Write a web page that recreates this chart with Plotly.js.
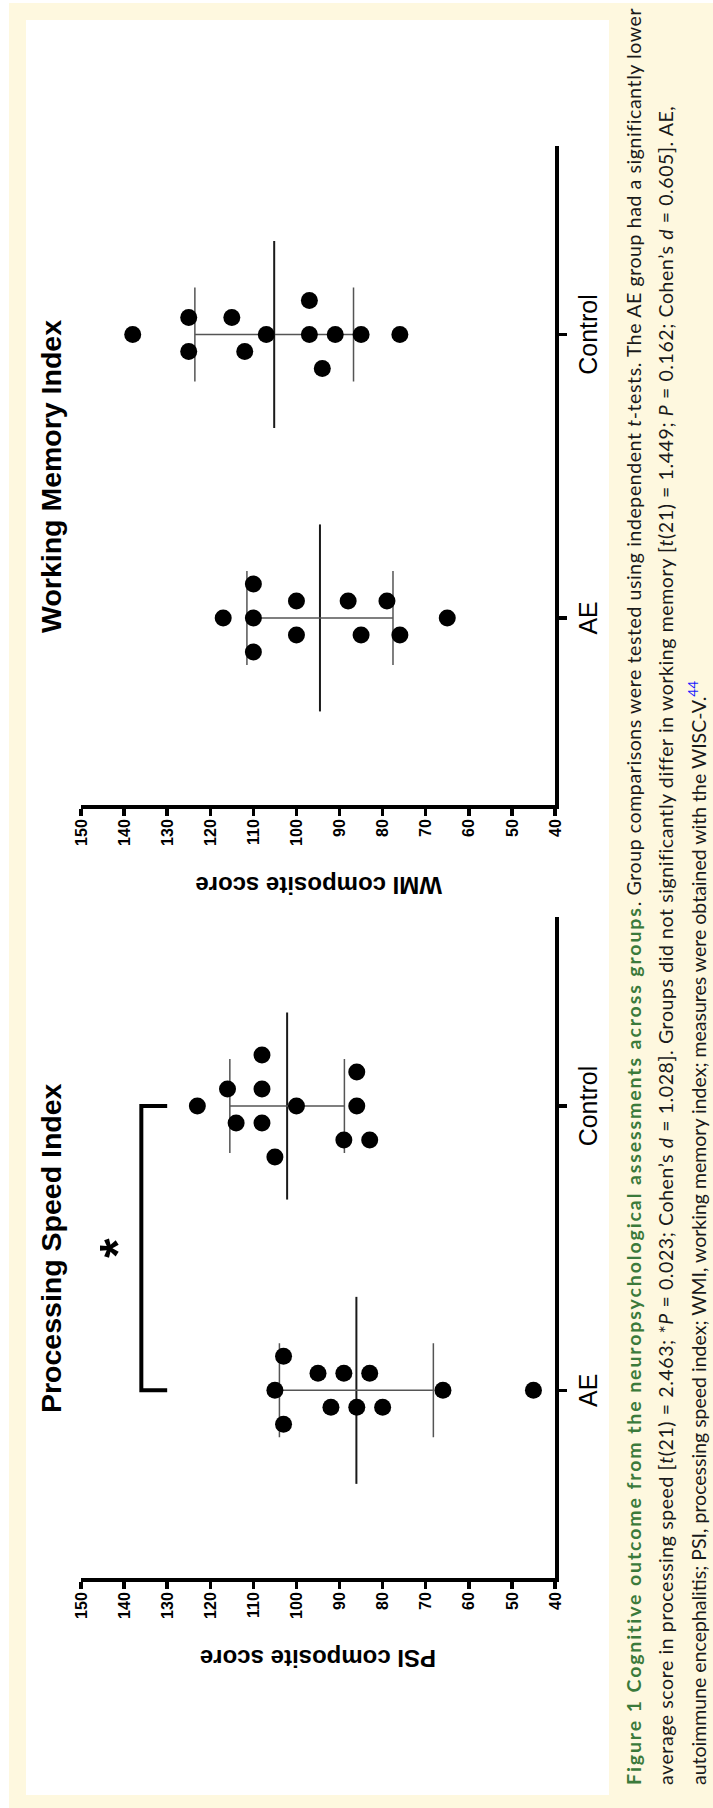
<!DOCTYPE html>
<html><head><meta charset="utf-8">
<script src="https://cdn.plot.ly/plotly-3.0.1.min.js"></script>
<style>
html,body{margin:0;padding:0;background:#fff;overflow:hidden;width:713px;height:1808px;}
#land{position:absolute;left:0;top:0;width:1808px;height:713px;transform-origin:0 0;transform:translate(0px,1808px) rotate(-90deg);}
#cream{position:absolute;left:0;top:9px;width:1805px;height:704px;background:#FEF8DF;}
#panel{position:absolute;left:13px;top:26px;width:1775px;height:583px;background:#fff;}
#plot{position:absolute;left:0;top:0;width:1808px;height:713px;}
</style></head><body>
<div id="land"><div id="cream"></div><div id="panel"></div><div id="plot"></div></div>
<script>
// ---------- data ----------
const categories = ['AE', 'Control'];
const psiAE      = [103, 105, 103, 95, 92, 89, 86, 83, 80, 66, 45];
const psiControl = [123, 116, 114, 108, 108, 108, 105, 100, 86, 86, 89, 83];
const wmiAE      = [117, 110, 110, 110, 100, 100, 88, 85, 79, 76, 65];
const wmiControl = [138, 125, 125, 115, 112, 107, 97, 97, 94, 91, 85, 76];
const yTickVals  = [40, 50, 60, 70, 80, 90, 100, 110, 120, 130, 140, 150];
const psiBracket = [130, 136];   // leg bottom, bar level (value units)
const panelTitles = ['Processing Speed Index', 'Working Memory Index'];
const axisTitles  = ['PSI composite score', 'WMI composite score'];

// ---------- geometry (landscape figure, later rotated) ----------
const W = 1808, H = 713;
const PX = [[230, 891], [1003, 1662]];
const PT = 81, PB = 555;
const xRange = [-0.66, 1.665];
const yRange = [40, 150];
const dotD = 17;
const pxY = (PB - PT) / (yRange[1] - yRange[0]);
const FONT = 'Arial, "Liberation Sans", Helvetica, sans-serif';

function mean(a){ return a.reduce((s,v)=>s+v,0)/a.length; }
function sd(a){ const m=mean(a); return Math.sqrt(a.reduce((s,v)=>s+(v-m)*(v-m),0)/(a.length-1)); }

// simple beeswarm: rows of overlapping values spread symmetrically, then collision fix
function swarm(vals, c, pxX){
  const thr = dotD / pxY;
  const rows = [];
  vals.forEach((v,i)=>{
    const r = rows[rows.length-1];
    if (r && r.every(j=>Math.abs(vals[j]-v) < thr)) r.push(i); else rows.push([i]);
  });
  const off = new Array(vals.length);
  const placed = [];
  const hits = (o,v)=>placed.some(p=>Math.abs(p.o-o) < 2 && Math.abs(p.v-v)*pxY < dotD);
  rows.forEach(r=>{
    const n = r.length;
    r.forEach((idx,k)=>{
      let o = (n-1) - 2*k;
      if (hits(o, vals[idx])) {
        for (const cnd of [0,1,-1,2,-2,3,-3,4,-4,5,-5]) { if (!hits(cnd, vals[idx])) { o = cnd; break; } }
      }
      off[idx] = o; placed.push({o:o, v:vals[idx]});
    });
  });
  return off.map(o => c + o*dotD/pxX);
}

const traces = [];
const groups = [[psiAE, psiControl], [wmiAE, wmiControl]];
groups.forEach((g, p)=>{
  const xa = p===0 ? 'x' : 'x2', ya = p===0 ? 'y' : 'y2';
  const pxX = (PX[p][1]-PX[p][0])/(xRange[1]-xRange[0]);
  const hw = 93.5/pxX;
  g.forEach((vals, c)=>{
    const m = mean(vals), s = sd(vals);
    traces.push({x:[c-hw, c+hw], y:[m, m], mode:'lines', line:{color:'#1a1a1a', width:2}, xaxis:xa, yaxis:ya, hoverinfo:'skip'});
    traces.push({x:[c], y:[m], mode:'markers', marker:{size:1, color:'rgba(0,0,0,0)'}, xaxis:xa, yaxis:ya,
      error_y:{type:'data', array:[s], visible:true, color:'#555', thickness:1.5, width:47}, hoverinfo:'skip'});
  });
  g.forEach((vals, c)=>{
    traces.push({x: swarm(vals, c, pxX), y: vals, mode:'markers', marker:{size:dotD, color:'#000', line:{width:0}}, xaxis:xa, yaxis:ya});
  });
});
traces.push({x:[0,0,1,1], y:[psiBracket[0], psiBracket[1], psiBracket[1], psiBracket[0]], mode:'lines',
  line:{color:'#000', width:4}, xaxis:'x', yaxis:'y', hoverinfo:'skip'});

function xax(p){
  return {domain:[PX[p][0]/W, PX[p][1]/W], range:xRange, tickvals:[0,1], ticktext:categories,
    ticks:'outside', ticklen:8, tickwidth:3.5, tickcolor:'#000', showline:true, linewidth:4, linecolor:'#000',
    showgrid:false, zeroline:false, anchor: p===0?'y':'y2', fixedrange:true,
    tickfont:{family:FONT, size:25, color:'#000'}};
}
function yax(p){
  return {domain:[1-PB/H, 1-PT/H], range:yRange, tickvals:yTickVals, ticks:'outside', ticklen:7, tickwidth:3.5,
    tickcolor:'#000', showline:true, linewidth:4, linecolor:'#000', showgrid:false, zeroline:false,
    anchor: p===0?'x':'x2', fixedrange:true, tickfont:{family:FONT, size:16, color:'#000', weight:700}};
}

const ann = [];
[0,1].forEach(p=>{
  ann.push({text:panelTitles[p], xref: p===0?'x':'x2', x:0.5, yref:'paper', y:1-51/H, xanchor:'center', yanchor:'middle',
    showarrow:false, font:{family:FONT, size:28.5, weight:700, color:'#000'}});
  ann.push({text:axisTitles[p], xref:'paper', x:(PX[p][0]-80)/W, yref:'paper', y:1-318/H, xanchor:'center', yanchor:'middle',
    textangle:-90, showarrow:false, font:{family:FONT, size:24, weight:700, color:'#000'}});
});
ann.push({text:'*', xref:'x', x:0.5, yref:'paper', y:1-118/H, xanchor:'center', yanchor:'middle', showarrow:false,
  font:{family:FONT, size:50, weight:700, color:'#000'}});

const CAP = 'Lato, "Open Sans", sans-serif';
const G = '#3b7a3b';
const LS = 'letter-spacing:0.6px';
const capLines = [
  '<span style="letter-spacing:1.9px"><b><span style="color:'+G+'">Figure 1 Cognitive outcome from the neuropsychological assessments across groups</span></b></span><span style="'+LS+'">. Group comparisons were tested using independent <i>t</i>-tests. The AE group had a significantly lower</span>',
  '<span style="'+LS+'">average score in processing speed [<i>t</i>(21) = 2.463; *<i>P</i> = 0.023; Cohen’s <i>d</i> = 1.028]. Groups did not significantly differ in working memory [<i>t</i>(21) = 1.449; <i>P</i> = 0.162; Cohen’s <i>d</i> = 0.605]. AE,</span>',
  'autoimmune encephalitis; PSI, processing speed index; WMI, working memory index; measures were obtained with the WISC-V.<sup><span style="color:#1a1aff">44</span></sup>'
];
capLines.forEach((t,i)=>{
  ann.push({text:t, xref:'paper', x:21/W, yref:'paper', y:1-(633+32*i)/H, xanchor:'left', yanchor:'middle', showarrow:false,
    align:'left', font:{family:CAP, size:19.5, color:'#1a1a1a'}});
});

const layout = {width:W, height:H, margin:{l:0,r:0,t:0,b:0}, paper_bgcolor:'rgba(0,0,0,0)', plot_bgcolor:'rgba(0,0,0,0)',
  showlegend:false, xaxis:xax(0), yaxis:yax(0), xaxis2:xax(1), yaxis2:yax(1), annotations:ann};
Plotly.newPlot('plot', traces, layout, {staticPlot:true, displayModeBar:false});
</script></body></html>
